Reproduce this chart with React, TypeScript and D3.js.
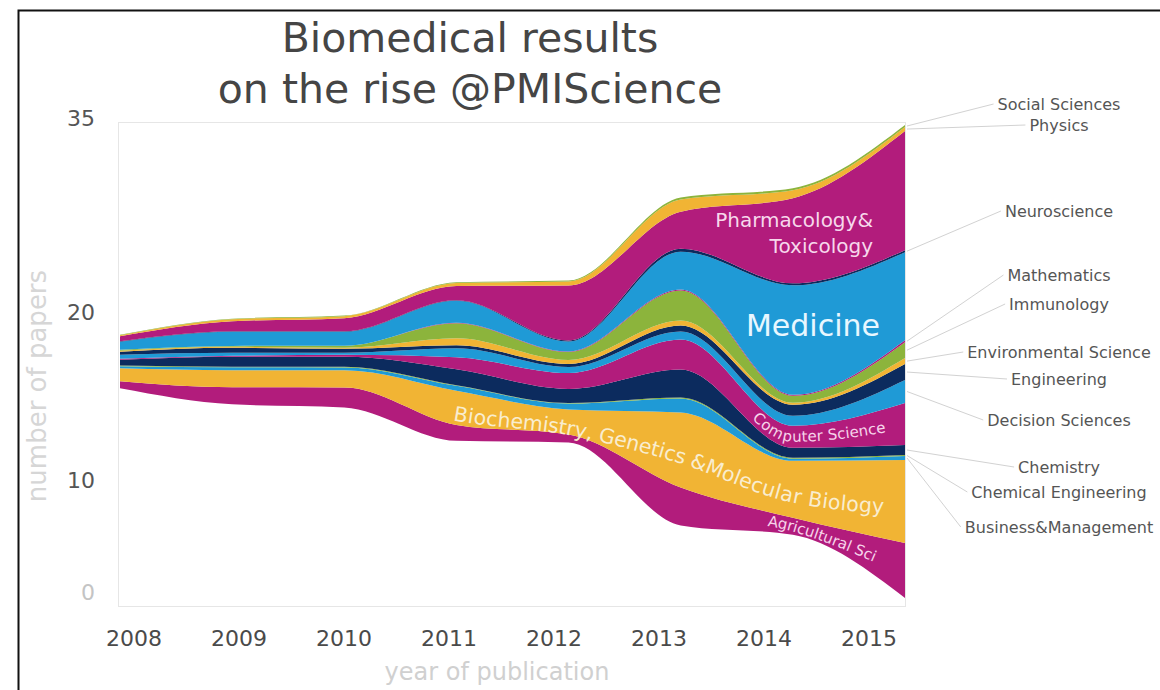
import React, { useEffect, useRef } from "react";
import * as d3 from "d3";

// ---------- data (number of papers, stacked bottom -> top) ----------
const YEARS = [2008, 2009, 2010, 2011, 2012, 2013, 2014, 2015];

const CATEGORIES = [
  "Agricultural Sci",
  "Biochemistry, Genetics &Molecular Biology",
  "Business&Management",
  "Chemical Engineering",
  "Chemistry",
  "Computer Science",
  "Decision Sciences",
  "Engineering",
  "Environmental Science",
  "Immunology",
  "Mathematics",
  "Medicine",
  "Neuroscience",
  "Pharmacology&Toxicology",
  "Physics",
  "Social Sciences",
];

const AGRICULTURAL = [0.52, 1.26, 1.48, 1.18, 0.59, 2.81, 1.26, 4.07];
const BIOCHEMISTRY = [0.96, 1.26, 1.26, 2.52, 1.85, 5.55, 4.22, 6.14];
const BUSINESS = [0.15, 0.22, 0.22, 0.37, 0.44, 1.04, 0.15, 0.3];
const CHEMICAL_ENGINEERING = [0.04, 0.04, 0.04, 0.04, 0.04, 0.07, 0.07, 0.07];
const CHEMISTRY = [0.44, 0.74, 0.74, 1.18, 1.04, 2.07, 0.74, 0.74];
const COMPUTER_SCIENCE = [0.07, 0.07, 0.15, 0.89, 1.18, 2.22, 1.63, 3.11];
const DECISION_SCIENCES = [0.3, 0.22, 0.15, 0.67, 0.44, 0.59, 0.74, 1.7];
const ENGINEERING = [0.22, 0.37, 0.3, 0.22, 0.22, 0.44, 0.81, 1.18];
const ENVIRONMENTAL = [0.07, 0.07, 0.07, 0.52, 0.3, 0.37, 0.15, 0.44];
const IMMUNOLOGY = [0.07, 0.07, 0.15, 1.11, 0.59, 2.22, 0.52, 1.18];
const MATHEMATICS = [0, 0, 0, 0.04, 0.04, 0.07, 0.07, 0.15];
const MEDICINE = [0.59, 1.04, 1.04, 1.63, 0.74, 2.81, 8.1, 6.51];
const NEUROSCIENCE = [0.04, 0.04, 0.04, 0.04, 0.07, 0.22, 0.15, 0.15];
const PHARMACOLOGY = [0.37, 0.74, 0.96, 1.04, 4.07, 2.74, 6.3, 8.81];
const PHYSICS = [0.07, 0.15, 0.15, 0.22, 0.3, 0.89, 0.59, 0.3];
const SOCIAL_SCIENCES = [0.04, 0.04, 0.04, 0.07, 0.07, 0.15, 0.15, 0.15];

const VALUES = [
  AGRICULTURAL, BIOCHEMISTRY, BUSINESS, CHEMICAL_ENGINEERING, CHEMISTRY,
  COMPUTER_SCIENCE, DECISION_SCIENCES, ENGINEERING, ENVIRONMENTAL, IMMUNOLOGY,
  MATHEMATICS, MEDICINE, NEUROSCIENCE, PHARMACOLOGY, PHYSICS, SOCIAL_SCIENCES,
];

const Y_TICKS = [0, 10, 20, 35];

const TITLE = ["Biomedical results", "on the rise @PMIScience"];

// side labels (top -> bottom)
const SIDE_LABELS = [
  "Social Sciences", "Physics", "Neuroscience", "Mathematics", "Immunology",
  "Environmental Science", "Engineering", "Decision Sciences", "Chemistry",
  "Chemical Engineering", "Business&Management",
];

// ---------- styles ----------
const MAGENTA = "#b21c7c";
const ORANGE = "#f1b434";
const NAVY = "#0c2b5e";
const BLUE = "#1f9ad6";
const GREEN = "#8cb43c";
const LAYER_COLORS = [
  MAGENTA, ORANGE, BLUE, GREEN, NAVY, MAGENTA, BLUE, NAVY,
  ORANGE, GREEN, MAGENTA, BLUE, NAVY, MAGENTA, ORANGE, GREEN,
];
const FONT = "'DejaVu Sans', Verdana, sans-serif";

export default function App() {
  const ref = useRef<SVGSVGElement>(null);

  useEffect(() => {
    const W = 1160, H = 690;
    const svg = d3.select(ref.current as SVGSVGElement);
    svg.selectAll("*").remove();

    svg.append("rect").attr("width", W).attr("height", H).attr("fill", "#fff");

    // outer frame
    svg.append("path")
      .attr("d", `M18.5,${H + 5}V10.5H${W + 5}`)
      .attr("fill", "none").attr("stroke", "#111").attr("stroke-width", 2);

    const table = YEARS.map((year, i) => {
      const row: any = { year };
      CATEGORIES.forEach((c, k) => (row[c] = VALUES[k][i]));
      return row;
    });
    const maxTotal = d3.max(table, (r: any) => d3.sum(CATEGORIES, (c) => r[c])) as number;

    const x = d3.scaleLinear().domain([2008, 2015]).range([120, 905]);
    const xLabel = d3.scalePoint<number>().domain(YEARS).range([134, 869]);
    const y = d3.scaleLinear().domain([-maxTotal / 2, maxTotal / 2]).range([598, 125]);
    // axis labels are placed non-linearly in the original
    const yTick = d3.scaleLinear().domain([0, 10, 20, 35]).range([-17.06, -8.77, 3.59, 18.0]);

    // plot frame
    svg.append("rect")
      .attr("x", 118.5).attr("y", 122.5)
      .attr("width", x(2015) - 118).attr("height", 606 - 122)
      .attr("fill", "none").attr("stroke", "#e6e6e6");

    const stack = d3.stack<any>().keys(CATEGORIES).offset(d3.stackOffsetSilhouette);
    const layers = stack(table);

    const area = d3.area<any>()
      .x((d) => x(d.data.year))
      .y0((d) => y(d[0]))
      .y1((d) => y(d[1]))
      .curve(d3.curveMonotoneX);

    svg.append("g").selectAll("path").data(layers).join("path")
      .attr("d", area as any)
      .attr("fill", (_d, i) => LAYER_COLORS[i]);

    const mid = d3.line<any>()
      .x((d) => x(d.data.year))
      .y((d) => y((d[0] + d[1]) / 2))
      .curve(d3.curveMonotoneX);

    const defs = svg.append("defs");
    const offsetAtX = (p: SVGPathElement, tx: number) => {
      let lo = 0, hi = p.getTotalLength();
      for (let k = 0; k < 40; k++) {
        const m = (lo + hi) / 2;
        if (p.getPointAtLength(m).x < tx) lo = m; else hi = m;
      }
      return lo;
    };
    const curvedLabel = (idx: number, id: string, text: string, startX: number, size: number, fill: string, dy: number) => {
      const p = defs.append("path").attr("id", id).attr("d", mid(layers[idx] as any) as string);
      const off = offsetAtX(p.node() as SVGPathElement, startX);
      svg.append("text")
        .attr("font-family", FONT).attr("font-size", size).attr("fill", fill)
        .attr("dominant-baseline", "central")
        .attr("dy", dy)
        .append("textPath").attr("href", `#${id}`).attr("startOffset", off)
        .text(text);
    };
    curvedLabel(1, "lbl-bio", CATEGORIES[1], 455, 20.5, "#f9edcf", 6);
    curvedLabel(5, "lbl-cs", CATEGORIES[5], 755, 15, "#f6d3ea", 0);
    curvedLabel(0, "lbl-agri", CATEGORIES[0], 768, 15, "#f6d3ea", 0);

    // straight in-stream labels
    svg.append("text").attr("font-family", FONT).attr("font-size", 20).attr("fill", "#f7d8ec")
      .attr("text-anchor", "end").attr("x", 873).attr("y", 227).text("Pharmacology&");
    svg.append("text").attr("font-family", FONT).attr("font-size", 20).attr("fill", "#f7d8ec")
      .attr("text-anchor", "end").attr("x", 873).attr("y", 253).text("Toxicology");
    svg.append("text").attr("font-family", FONT).attr("font-size", 30).attr("fill", "#e8f7ff")
      .attr("text-anchor", "end").attr("x", 880).attr("y", 336).text("Medicine");

    // title
    TITLE.forEach((t, i) => {
      svg.append("text").attr("font-family", FONT).attr("font-size", 41).attr("fill", "#454545")
        .attr("text-anchor", "middle").attr("x", 470).attr("y", 52 + i * 51).text(t);
    });

    // y ticks
    Y_TICKS.forEach((v) => {
      svg.append("text").attr("font-family", FONT).attr("font-size", 22)
        .attr("fill", v === 0 ? "#c4c4c4" : "#555")
        .attr("text-anchor", "end").attr("dominant-baseline", "central")
        .attr("x", 95).attr("y", y(yTick(v))).text(String(v));
    });
    svg.append("text").attr("font-family", FONT).attr("font-size", 26).attr("fill", "#d6d6d6")
      .attr("text-anchor", "middle").attr("dominant-baseline", "central")
      .attr("transform", "translate(37,386) rotate(-90)").text("number of papers");

    // x labels
    YEARS.forEach((yr) => {
      svg.append("text").attr("font-family", FONT).attr("font-size", 22).attr("fill", "#4a4a4a")
        .attr("text-anchor", "middle").attr("dominant-baseline", "central")
        .attr("x", xLabel(yr) as number).attr("y", 638).text(String(yr));
    });
    svg.append("text").attr("font-family", FONT).attr("font-size", 24).attr("fill", "#d0d0d0")
      .attr("text-anchor", "middle").attr("dominant-baseline", "central")
      .attr("x", 497).attr("y", 672).text("year of publication");

    // side labels with leader lines
    const sideY = [104, 125, 211, 275, 304, 352, 379, 420, 467, 492, 527];
    const last = YEARS.length - 1;
    SIDE_LABELS.forEach((name, i) => {
      const li = CATEGORIES.findIndex((c) => c === name);
      const d = layers[li][last];
      const t = svg.append("text").attr("font-family", FONT).attr("font-size", 16).attr("fill", "#555")
        .attr("text-anchor", "middle").attr("dominant-baseline", "central")
        .attr("x", 1059).attr("y", sideY[i]).text(name);
      const w = (t.node() as SVGTextElement).getComputedTextLength();
      svg.insert("line", "text")
        .attr("x1", x(2015) + 2).attr("y1", y((d[0] + d[1]) / 2))
        .attr("x2", 1059 - w / 2 - 4).attr("y2", sideY[i])
        .attr("stroke", "#d2d2d2").attr("stroke-width", 1);
    });
  }, []);

  return (
    <svg
      ref={ref}
      width={1160}
      height={690}
      style={{ position: "absolute", left: 0, top: 0, display: "block" }}
    />
  );
}
